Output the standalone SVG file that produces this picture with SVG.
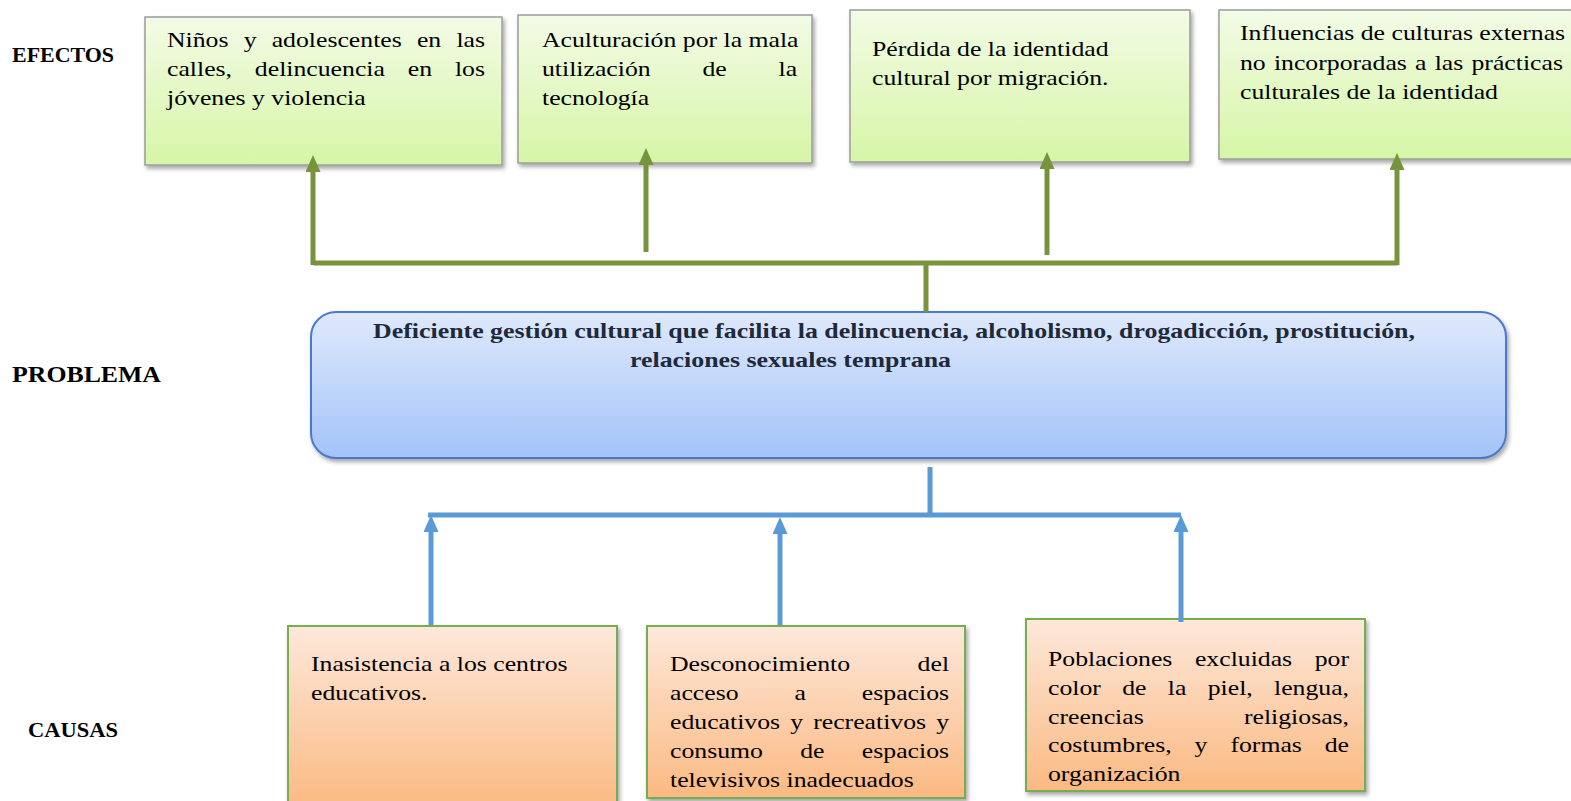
<svg xmlns="http://www.w3.org/2000/svg" width="1571" height="801" viewBox="0 0 1571 801">
<defs>
<linearGradient id="gG" x1="0" y1="0" x2="0" y2="1"><stop offset="0" stop-color="#f3fbe6"/><stop offset="1" stop-color="#d6f6a6"/></linearGradient>
<linearGradient id="gB" x1="0" y1="0" x2="0" y2="1"><stop offset="0" stop-color="#dfe9fc"/><stop offset="1" stop-color="#a3c3f9"/></linearGradient>
<linearGradient id="gO" x1="0" y1="0" x2="0" y2="1"><stop offset="0" stop-color="#fde8da"/><stop offset="1" stop-color="#fbb982"/></linearGradient>
<filter id="sh" x="-5%" y="-5%" width="110%" height="120%"><feDropShadow dx="2" dy="3" stdDeviation="2" flood-color="#000" flood-opacity="0.35"/></filter>
<marker id="ag" viewBox="0 0 17 15" markerWidth="17" markerHeight="15" refX="2" refY="7.5" orient="auto" markerUnits="userSpaceOnUse"><path d="M0,0 L17,7.5 L0,15 z" fill="#77933c"/></marker>
<marker id="ab" viewBox="0 0 17 15" markerWidth="17" markerHeight="15" refX="2" refY="7.5" orient="auto" markerUnits="userSpaceOnUse"><path d="M0,0 L17,7.5 L0,15 z" fill="#5b9bd5"/></marker>
<style>
.t{font-family:"Liberation Serif","Times New Roman",serif;font-size:22px;fill:#000}
.lab{font-family:"Liberation Serif","Times New Roman",serif;font-size:22px;font-weight:bold;fill:#000}
.pb{font-family:"Liberation Serif","Times New Roman",serif;font-size:22px;font-weight:bold;fill:#1e293a}
.e{fill:url(#gG);stroke:#9c9c9c;stroke-width:1.5;filter:url(#sh)}
.c{fill:url(#gO);stroke:#74ae4f;stroke-width:2;filter:url(#sh)}
.gl{stroke:#77933c;stroke-width:5;fill:none}
.bl{stroke:#5b9bd5;stroke-width:5;fill:none}
</style>
</defs>
<rect width="1571" height="801" fill="#fff"/>

<g id="labels">
<text class="lab" x="12" y="62" textLength="102" lengthAdjust="spacingAndGlyphs">EFECTOS</text>
<text class="lab" x="12" y="382" style="font-size:23.5px" textLength="149" lengthAdjust="spacingAndGlyphs">PROBLEMA</text>
<text class="lab" x="28" y="737" textLength="90" lengthAdjust="spacingAndGlyphs">CAUSAS</text>
</g>

<g id="efecto1">
<rect class="e" x="145" y="17" width="357" height="148"/>
<g transform="translate(167,0) scale(1.17,1)">
<text class="t" y="47"><tspan x="0">Niños</tspan><tspan x="65.5">y</tspan><tspan x="89.5">adolescentes</tspan><tspan x="213.6">en</tspan><tspan x="271.8" text-anchor="end">las</tspan></text>
<text class="t" y="76"><tspan x="0">calles,</tspan><tspan x="75.1">delincuencia</tspan><tspan x="205.8">en</tspan><tspan x="271.8" text-anchor="end">los</tspan></text>
<text class="t" x="0" y="105">jóvenes y violencia</text>
</g>
</g>

<g id="efecto2">
<rect class="e" x="518" y="15" width="294" height="148"/>
<g transform="translate(542,0) scale(1.17,1)">
<text class="t" x="0" y="47">Aculturación por la mala</text>
<text class="t" y="76"><tspan x="0">utilización</tspan><tspan x="137.1">de</tspan><tspan x="218" text-anchor="end">la</tspan></text>
<text class="t" x="0" y="105">tecnología</text>
</g>
</g>

<g id="efecto3">
<rect class="e" x="850" y="10" width="340" height="152"/>
<g transform="translate(872,0) scale(1.17,1)">
<text class="t" x="0" y="56">Pérdida de la identidad</text>
<text class="t" x="0" y="85">cultural por migración.</text>
</g>
</g>

<g id="efecto4">
<rect class="e" x="1219" y="10" width="362" height="149"/>
<g transform="translate(1240,0) scale(1.17,1)">
<text class="t" x="0" y="40">Influencias de culturas externas</text>
<text class="t" y="70"><tspan x="0">no</tspan><tspan x="29">incorporadas</tspan><tspan x="149.6">a</tspan><tspan x="166.4">las</tspan><tspan x="276" text-anchor="end">prácticas</tspan></text>
<text class="t" x="0" y="99">culturales de la identidad</text>
</g>
</g>

<g id="problema">
<rect x="311" y="312" width="1195" height="146" rx="25" ry="25" fill="url(#gB)" stroke="#4a78cc" stroke-width="2" filter="url(#sh)"/>
<text class="pb" x="373" y="338" textLength="1042" lengthAdjust="spacingAndGlyphs">Deficiente gestión cultural que facilita la delincuencia, alcoholismo, drogadicción, prostitución,</text>
<text class="pb" x="630" y="367" textLength="321" lengthAdjust="spacingAndGlyphs">relaciones sexuales temprana</text>
</g>

<g id="causa1">
<rect class="c" x="288" y="626" width="329" height="185"/>
<g transform="translate(311,0) scale(1.17,1)">
<text class="t" x="0" y="671">Inasistencia a los centros</text>
<text class="t" x="0" y="700">educativos.</text>
</g>
</g>

<g id="causa2">
<rect class="c" x="647" y="626" width="318" height="172"/>
<g transform="translate(670,0) scale(1.17,1)">
<text class="t" y="671"><tspan x="0">Desconocimiento</tspan><tspan x="238.5" text-anchor="end">del</tspan></text>
<text class="t" y="700"><tspan x="0">acceso</tspan><tspan x="106.4">a</tspan><tspan x="238.5" text-anchor="end">espacios</tspan></text>
<text class="t" y="729"><tspan x="0">educativos</tspan><tspan x="102.7">y</tspan><tspan x="122.4">recreativos</tspan><tspan x="238.5" text-anchor="end">y</tspan></text>
<text class="t" y="758"><tspan x="0">consumo</tspan><tspan x="111.3">de</tspan><tspan x="238.5" text-anchor="end">espacios</tspan></text>
<text class="t" x="0" y="787">televisivos inadecuados</text>
</g>
</g>

<g id="causa3">
<rect class="c" x="1026" y="619" width="339" height="172"/>
<g transform="translate(1048,0) scale(1.17,1)">
<text class="t" y="666"><tspan x="0">Poblaciones</tspan><tspan x="125.6">excluidas</tspan><tspan x="257.3" text-anchor="end">por</tspan></text>
<text class="t" y="695"><tspan x="0">color</tspan><tspan x="63.4">de</tspan><tspan x="102.4">la</tspan><tspan x="136.5">piel,</tspan><tspan x="257.3" text-anchor="end">lengua,</tspan></text>
<text class="t" y="724"><tspan x="0">creencias</tspan><tspan x="257.3" text-anchor="end">religiosas,</tspan></text>
<text class="t" y="752"><tspan x="0">costumbres,</tspan><tspan x="125.3">y</tspan><tspan x="155.9">formas</tspan><tspan x="257.3" text-anchor="end">de</tspan></text>
<text class="t" x="0" y="781">organización</text>
</g>
</g>

<g id="connectors">
<path class="gl" d="M313,263 H1398 M926,263 V312"/>
<line class="gl" x1="313" y1="265" x2="313" y2="170" marker-end="url(#ag)"/>
<line class="gl" x1="646" y1="252" x2="646" y2="163" marker-end="url(#ag)"/>
<line class="gl" x1="1047" y1="255" x2="1047" y2="167" marker-end="url(#ag)"/>
<line class="gl" x1="1397" y1="265" x2="1397" y2="168" marker-end="url(#ag)"/>
<path class="bl" d="M930,467 V515 M428,515 H1181"/>
<line class="bl" x1="431" y1="625" x2="431" y2="530" marker-end="url(#ab)"/>
<line class="bl" x1="780" y1="625" x2="780" y2="532" marker-end="url(#ab)"/>
<line class="bl" x1="1181" y1="622" x2="1181" y2="530" marker-end="url(#ab)"/>
</g>
</svg>
